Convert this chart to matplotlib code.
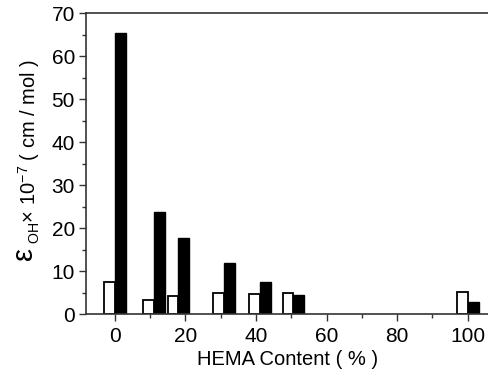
import matplotlib
matplotlib.use("Agg")
import matplotlib.pyplot as plt
from matplotlib.ticker import MultipleLocator

plt.rcParams['font.family'] = ['Liberation Sans', 'DejaVu Sans']
plt.rcParams['mathtext.fontset'] = 'custom'
plt.rcParams['mathtext.rm'] = 'Liberation Sans'
plt.rcParams['mathtext.it'] = 'Liberation Sans:italic'

hema = [0, 11, 18, 31, 41, 50.6, 100]
white_vals = [7.5, 3.3, 4.1, 5.0, 4.7, 4.9, 5.1]
black_vals = [65.5, 23.8, 17.8, 11.8, 7.4, 4.4, 2.7]
xticks = [0, 20, 40, 60, 80, 100]
yticks = [0, 10, 20, 30, 40, 50, 60, 70]

W, H = 489, 369
fig = plt.figure(figsize=(W/100, H/100), dpi=100)
ax = fig.add_axes([86/W, 1-314/H, 1-86/W + 0.002, (314-13.5)/H])

bw = 3.1
ax.bar([x - bw/2 for x in hema], white_vals, width=bw, facecolor='white',
       edgecolor='black', linewidth=1.3)
ax.bar([x + bw/2 for x in hema], black_vals, width=bw, facecolor='black',
       edgecolor='black', linewidth=1.0)

ax.set_xlim(-8.2, 106.3)
ax.set_ylim(0, 70)
ax.set_xticks(xticks)
ax.set_yticks(yticks)
ax.xaxis.set_minor_locator(MultipleLocator(10))
ax.yaxis.set_minor_locator(MultipleLocator(5))
ax.tick_params(which='both', direction='out', labelsize=15, width=1, color='#333333')
ax.tick_params(which='major', length=5)
ax.tick_params(which='minor', length=3)
ax.tick_params(axis='y', pad=3)
ax.tick_params(axis='x', pad=4)
ax.spines['right'].set_visible(False)
for s in ['left', 'bottom', 'top']:
    ax.spines[s].set_linewidth(1.2)
    ax.spines[s].set_color('#333333')

ax.set_xlabel('HEMA Content ( % )', fontsize=14.5, labelpad=3)

fig.text(24/W, 1-254/H, 'ε', rotation=90, fontsize=21, ha='center', va='center')
fig.text(29/W, 1-244/H, r'${}_{\mathrm{OH}}$$\times$ 10$^{-7}$ ( cm / mol )',
         rotation=90, fontsize=14.5, ha='center', va='bottom')

fig.savefig('out.png', dpi=100)
